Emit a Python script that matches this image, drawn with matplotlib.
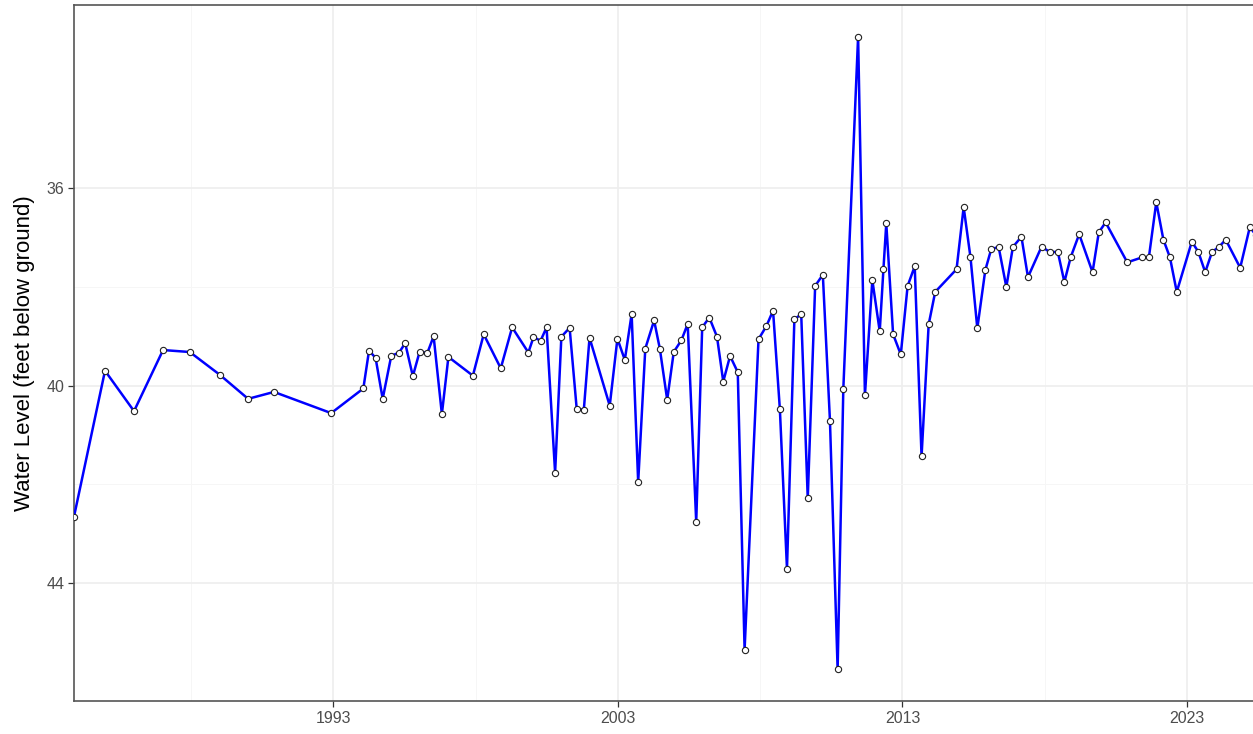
import matplotlib
matplotlib.use("Agg")
import matplotlib.pyplot as plt
from matplotlib.ticker import FixedLocator

plt.rcParams["font.family"] = ["Liberation Sans", "DejaVu Sans"]

# Measurement dates (decimal years) and depth to water (feet below ground)
years = [
    1983.88, 1984.97, 1985.99, 1987.01, 1987.95, 1989.00, 1990.00, 1990.91,
    1992.92, 1994.05, 1994.25, 1994.48, 1994.73, 1995.03, 1995.31, 1995.52,
    1995.79, 1996.03, 1996.30, 1996.52, 1996.81, 1997.04, 1997.90, 1998.28,
    1998.88, 1999.28, 1999.85, 2000.03, 2000.28, 2000.49, 2000.79, 2001.01,
    2001.30, 2001.55, 2001.80, 2002.00, 2002.71, 2002.98, 2003.24, 2003.48,
    2003.71, 2003.96, 2004.27, 2004.47, 2004.73, 2004.96, 2005.23, 2005.45,
    2005.75, 2005.96, 2006.21, 2006.48, 2006.70, 2006.94, 2007.21, 2007.45,
    2007.94, 2008.22, 2008.45, 2008.69, 2008.94, 2009.20, 2009.44, 2009.67,
    2009.93, 2010.20, 2010.45, 2010.72, 2010.92, 2011.44, 2011.68, 2011.94,
    2012.20, 2012.33, 2012.43, 2012.67, 2012.94, 2013.18, 2013.43, 2013.67,
    2013.92, 2014.15, 2014.90, 2015.15, 2015.39, 2015.63, 2015.91, 2016.12,
    2016.38, 2016.65, 2016.88, 2017.18, 2017.41, 2017.89, 2018.17, 2018.46,
    2018.69, 2018.91, 2019.21, 2019.68, 2019.90, 2020.14, 2020.90, 2021.42,
    2021.66, 2021.92, 2022.17, 2022.40, 2022.64, 2023.17, 2023.40, 2023.64,
    2023.88, 2024.12, 2024.36, 2024.87, 2025.21, 2025.42,
]
water_level = [
    42.66, 39.70, 40.52, 39.28, 39.32, 39.78, 40.27, 40.13,
    40.56, 40.06, 39.29, 39.44, 40.27, 39.40, 39.33, 39.14,
    39.81, 39.31, 39.34, 39.00, 40.58, 39.42, 39.80, 38.96,
    39.65, 38.82, 39.33, 39.02, 39.09, 38.82, 41.77, 39.01,
    38.83, 40.48, 40.49, 39.03, 40.41, 39.05, 39.48, 38.55,
    41.96, 39.25, 38.68, 39.25, 40.29, 39.32, 39.08, 38.75,
    42.77, 38.82, 38.62, 39.01, 39.92, 39.40, 39.73, 45.36,
    39.06, 38.79, 38.48, 40.48, 43.72, 38.66, 38.55, 42.29,
    37.98, 37.75, 40.71, 45.76, 40.07, 32.92, 40.20, 37.86,
    38.90, 37.64, 36.71, 38.96, 39.37, 37.98, 37.58, 41.44,
    38.76, 38.10, 37.64, 36.38, 37.40, 38.84, 37.66, 37.23,
    37.19, 38.00, 37.19, 36.98, 37.80, 37.18, 37.29, 37.29,
    37.90, 37.40, 36.93, 37.70, 36.89, 36.69, 37.50, 37.40,
    37.40, 36.28, 37.04, 37.40, 38.10, 37.08, 37.29, 37.70,
    37.29, 37.19, 37.04, 37.61, 36.78, 36.95,
]

year_ticks = [1993, 2003, 2013, 2023]
year_minor = [1988, 1998, 2008, 2018]
level_ticks = [36, 40, 44]
level_minor = [38, 42]

W, H = 1253, 734
fig = plt.figure(figsize=(W / 100, H / 100), dpi=100)
fig.patch.set_facecolor("white")
ax = fig.add_axes([74 / W, (H - 701) / H, (W - 74 + 2) / W, (701 - 5) / H])
ax.set_facecolor("white")

ax.plot(years, water_level, color="#0000FF", linewidth=1.8, zorder=3,
        marker="o", markersize=4.5, markerfacecolor="white",
        markeredgecolor="#222222", markeredgewidth=0.8)

# Depth axis: larger values further down
ymin, ymax = min(water_level), max(water_level)
pad = 0.05 * (ymax - ymin)
ax.set_ylim(ymax + pad, ymin - pad)
ax.set_xlim(1983.88, 2025.39)

ax.xaxis.set_major_locator(FixedLocator(year_ticks))
ax.xaxis.set_minor_locator(FixedLocator(year_minor))
ax.yaxis.set_major_locator(FixedLocator(level_ticks))
ax.yaxis.set_minor_locator(FixedLocator(level_minor))
ax.set_xticklabels([str(y) for y in year_ticks])
ax.set_yticklabels([str(v) for v in level_ticks])

ax.grid(which="major", color="#EEEEEE", linewidth=1.2, zorder=0)
ax.grid(which="minor", color="#F6F6F6", linewidth=0.7, zorder=0)
ax.set_axisbelow(True)

ax.tick_params(axis="both", which="major", length=4, width=0.9,
               color="#333333", labelsize=11.5, labelcolor="#4D4D4D", pad=3)
ax.tick_params(axis="both", which="minor", length=0)

for name, spine in ax.spines.items():
    spine.set_color("#555555")
    spine.set_linewidth(1.2)
ax.spines["right"].set_visible(False)

ax.set_ylabel("Water Level (feet below ground)", fontsize=16,
              color="black", labelpad=8)

fig.savefig("out.png", dpi=100, facecolor="white")
